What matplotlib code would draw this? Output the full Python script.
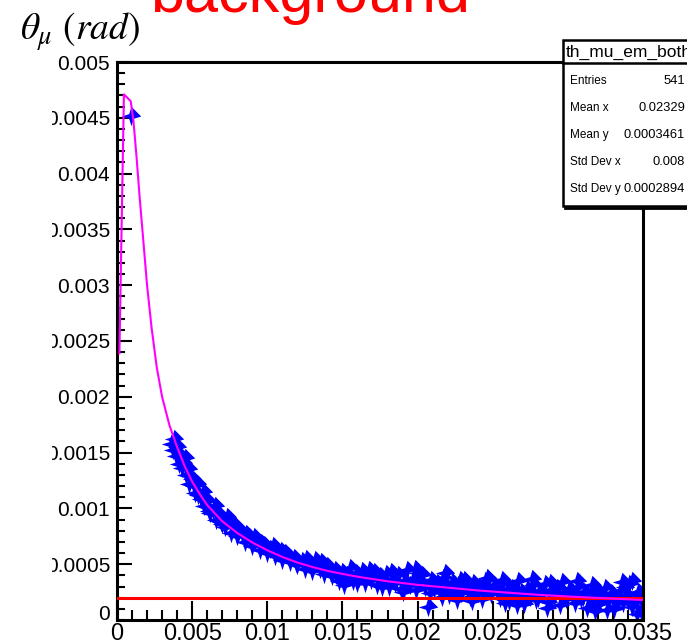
import numpy as np
import matplotlib
matplotlib.use("Agg")
import matplotlib.pyplot as plt
from matplotlib.path import Path
from matplotlib.patches import Rectangle
from matplotlib.lines import Line2D

# Electron angle (x) and muon angle (y) of the selected events, in mrad
theta_e_mrad = [
    0.91,
    3.6, 3.7, 3.8, 3.9, 4.0, 4.1, 4.2, 4.3, 4.4, 4.5, 4.6, 4.7, 4.8, 5.0, 5.1,
    5.2, 5.3, 5.4, 5.6, 5.7, 5.8, 6.0, 6.1, 6.2, 6.4, 6.5, 6.6, 6.8, 6.9, 7.0,
    7.2, 7.3, 7.4, 7.6, 7.7, 7.8, 8.0, 8.1, 8.3, 8.5, 8.6, 8.8, 9.0, 9.1, 9.2,
    9.5, 9.6, 9.8, 10.0,
    10.2, 10.4, 10.5, 10.7, 10.9, 11.0, 11.2, 11.4, 11.5, 11.8, 11.9, 12.0,
    12.3, 12.5, 12.6, 12.8, 13.0, 13.1, 13.2, 13.5, 13.6, 13.8, 14.0, 14.2,
    14.3, 14.5, 14.6, 14.8, 15.0, 15.1, 15.2,
    15.3, 15.5, 15.7, 15.9, 16.0, 16.1, 16.3, 16.5, 16.7, 16.8, 16.9, 17.1,
    17.3, 17.5, 17.6, 17.7, 17.9, 18.1, 18.2, 18.3, 18.5, 18.7, 18.9, 19.0,
    19.1, 19.3, 19.5, 19.7, 19.8, 19.9, 20.0, 20.1, 20.3, 20.5, 20.7,
    20.8, 20.9, 21.0, 21.1, 21.3, 21.5, 21.6, 21.7, 21.8, 21.9, 22.0, 22.1,
    22.3, 22.5, 22.6, 22.7, 22.8, 22.9, 23.0, 23.1, 23.3, 23.5, 23.6, 23.7,
    23.9, 24.0, 24.1, 24.3, 24.5, 24.6, 24.7, 24.9, 25.1,
    25.3, 25.5, 25.6, 25.7, 25.8, 25.9, 26.0, 26.1, 26.3, 26.5, 26.6, 26.7,
    26.9, 27.0, 27.1, 27.3, 27.5, 27.6, 27.7, 27.9, 28.0, 28.1, 28.3, 28.5,
    28.6, 28.7, 28.8, 28.9, 29.0, 29.1, 29.3, 29.5, 29.6, 29.7, 29.9, 30.1,
    30.3, 30.5, 30.6, 30.7, 30.9, 31.0, 31.1, 31.3, 31.5, 31.6, 31.7, 31.8,
    31.9, 32.0, 32.1, 32.3, 32.5, 32.6, 32.7, 32.9, 33.0, 33.1, 33.3, 33.5,
    33.6, 33.7, 33.8, 33.9, 34.0, 34.1, 34.3, 34.3, 34.5, 34.6, 34.7, 34.85,
    34.9, 34.95,
]
theta_mu_mrad = [
    4.52,
    1.58, 1.52, 1.62, 1.47, 1.55, 1.40, 1.47, 1.36, 1.41, 1.45, 1.30, 1.35, 1.22, 1.26, 1.20,
    1.14, 1.22, 1.12, 1.08, 1.15, 1.02, 1.07, 0.98, 0.96, 0.99, 1.02, 0.90, 0.94, 0.88, 0.86,
    0.83, 0.92, 0.90, 0.78, 0.86, 0.84, 0.75, 0.80, 0.78, 0.70, 0.77, 0.74, 0.66, 0.74, 0.71,
    0.63, 0.69, 0.67, 0.60,
    0.64, 0.66, 0.57, 0.61, 0.62, 0.54, 0.60, 0.57, 0.52, 0.56, 0.51, 0.49,
    0.53, 0.46, 0.55, 0.50, 0.44, 0.49, 0.54, 0.46, 0.52, 0.41, 0.48, 0.44,
    0.39, 0.45, 0.40, 0.35, 0.43, 0.31, 0.38,
    0.40, 0.47, 0.35, 0.42, 0.33, 0.38, 0.44, 0.33, 0.40, 0.45, 0.36, 0.43,
    0.31, 0.39, 0.30, 0.35, 0.41, 0.30, 0.43, 0.37, 0.33, 0.40, 0.28, 0.25,
    0.35, 0.45, 0.31, 0.37, 0.46, 0.27, 0.42, 0.34, 0.40, 0.30, 0.12,
    0.24, 0.36, 0.31, 0.28, 0.33, 0.25, 0.21, 0.38, 0.42, 0.30, 0.27, 0.22,
    0.34, 0.27, 0.18, 0.31, 0.36, 0.24, 0.29, 0.36, 0.29, 0.21, 0.17, 0.33,
    0.26, 0.24, 0.30, 0.19, 0.35, 0.38, 0.27, 0.23, 0.31,
    0.26, 0.20, 0.36, 0.33, 0.15, 0.24, 0.27, 0.17, 0.29, 0.22, 0.13, 0.35,
    0.25, 0.22, 0.14, 0.28, 0.21, 0.37, 0.31, 0.18, 0.20, 0.26, 0.23, 0.32,
    0.11, 0.16, 0.33, 0.27, 0.25, 0.21, 0.29, 0.13, 0.34, 0.24, 0.19, 0.28,
    0.22, 0.15, 0.35, 0.30, 0.19, 0.21, 0.25, 0.11, 0.23, 0.31, 0.18, 0.08,
    0.27, 0.20, 0.14, 0.21, 0.29, 0.09, 0.17, 0.24, 0.18, 0.10, 0.20, 0.26,
    0.34, 0.15, 0.30, 0.22, 0.17, 0.32, 0.12, 0.35, 0.19, 0.05, 0.25, 0.08,
    0.22, 0.16,
]

# Fitted theta_mu(theta_e) curve, mrad
fit_x_mrad = [0.16, 0.46, 0.91, 1.09, 1.3, 1.5, 1.75, 2.0, 2.3, 2.65, 3.0, 3.5,
              4.0, 4.5, 5.0, 5.5, 6.0, 7.0, 8.0, 9.0, 10.0, 11.0, 12.0, 13.0,
              14.0, 15.0, 16.0, 18.0, 20.0, 22.0, 24.0, 26.0, 28.0, 30.0, 32.0, 35.0]
fit_y_mrad = [2.39, 4.71, 4.65, 4.48, 4.15, 3.80, 3.40, 3.00, 2.62, 2.26, 2.00, 1.74,
              1.55, 1.38, 1.24, 1.13, 1.03, 0.885, 0.78, 0.695, 0.625, 0.565, 0.515, 0.475,
              0.44, 0.413, 0.388, 0.347, 0.315, 0.29, 0.265, 0.245, 0.226, 0.211, 0.198, 0.179]

# Muon angle cut, rad
theta_mu_cut = 0.0002

x_ticks = [0, 0.005, 0.01, 0.015, 0.02, 0.025, 0.03, 0.035]
x_tick_labels = ["0", "0.005", "0.01", "0.015", "0.02", "0.025", "0.03", "0.035"]
y_ticks = [0.0005, 0.001, 0.0015, 0.002, 0.0025, 0.003, 0.0035, 0.004, 0.0045, 0.005]
y_tick_labels = ["0.0005", "0.001", "0.0015", "0.002", "0.0025", "0.003",
                 "0.0035", "0.004", "0.0045", "0.005"]

hist_name = "th_mu_em_both"
stat_names = ["Entries", "Mean x", "Mean y", "Std Dev x", "Std Dev y"]
stat_values = ["541", "0.02329", "0.0003461", "0.008", "0.0002894"]

title_text = "background"
y_title = r"$\theta_{\mu}\ (rad)$"

plt.rcParams["mathtext.fontset"] = "stix"
SANS = ["Liberation Sans", "DejaVu Sans"]

W, H = 687, 644
fig = plt.figure(figsize=(W / 100, H / 100), dpi=100)


def fx(px):
    return px / W


def fy(py):
    return 1 - py / H


ax = fig.add_axes([fx(117), fy(620), fx(643) - fx(117), fy(62) - fy(620)])
ax.set_xlim(0, 0.035)
ax.set_ylim(0, 0.005)

# four-pointed star marker
ang = np.deg2rad(90 + 45 * np.arange(8))
rad = np.where(np.arange(8) % 2 == 0, 1.0, 0.34)
star = Path(np.column_stack([rad * np.cos(ang), rad * np.sin(ang)]), closed=True)

x = np.array(theta_e_mrad) * 1e-3
y = np.array(theta_mu_mrad) * 1e-3
ax.plot(x, y, linestyle="none", marker=star, markersize=14, color="#0000ff",
        markeredgewidth=0, zorder=2)

ax.axhline(theta_mu_cut, color="#ff0000", lw=2.2, zorder=3)
ax.plot(np.array(fit_x_mrad) * 1e-3, np.array(fit_y_mrad) * 1e-3,
        color="#ff00ff", lw=1.5, zorder=4)

for s in ax.spines.values():
    s.set_linewidth(2.2)

ax.set_xticks(x_ticks)
ax.set_xticklabels(x_tick_labels)
ax.set_yticks(y_ticks)
ax.set_yticklabels(y_tick_labels)
ax.set_xticks(np.arange(0, 0.0351, 0.001), minor=True)
ax.set_yticks(np.arange(0, 0.00501, 0.0001), minor=True)
ax.tick_params(which="both", direction="in", top=False, right=False, width=1.5)
ax.tick_params(axis="x", which="major", length=13.7, pad=2.5, labelsize=17)
ax.tick_params(axis="x", which="minor", length=7.2)
ax.tick_params(axis="y", which="major", length=10.8, pad=5, labelsize=15)
ax.tick_params(axis="y", which="minor", length=5.5)
for lab in ax.get_xticklabels() + ax.get_yticklabels():
    lab.set_family(SANS)
ax.annotate("0", xy=(0, 0), xycoords="axes fraction", xytext=(-5, 4),
            textcoords="offset points", ha="right", va="center",
            fontsize=15, family=SANS)

# left edge of the pasted canvas
fig.add_artist(Rectangle((0, 0), fx(52), 1, transform=fig.transFigure,
                         facecolor="white", edgecolor="none", zorder=5))

# statistics box
bx0, by0, by1 = 563, 40, 206
fig.add_artist(Rectangle((fx(bx0), fy(by1)), fx(760) - fx(bx0), fy(by0) - fy(by1),
                         transform=fig.transFigure, facecolor="white",
                         edgecolor="black", lw=1.8, zorder=6))
fig.add_artist(Line2D([fx(bx0), 1], [fy(63), fy(63)], transform=fig.transFigure,
                      color="black", lw=1.8, zorder=7))
fig.add_artist(Line2D([fx(bx0 + 2), 1], [fy(by1 + 1.5), fy(by1 + 1.5)],
                      transform=fig.transFigure, color="black", lw=2.0, zorder=7))
fig.text(fx(566), fy(52), hist_name, fontsize=12.5, family=SANS, ha="left",
         va="center", zorder=8)
for i, (nm, val) in enumerate(zip(stat_names, stat_values)):
    yy = 81 + 27 * i
    fig.text(fx(570), fy(yy), nm, fontsize=8.5, family=SANS, ha="left",
             va="center", zorder=8)
    fig.text(fx(685), fy(yy), val, fontsize=9.3, family=SANS, ha="right",
             va="center", zorder=8)

fig.text(fx(20), fy(40), y_title, fontsize=27, ha="left", va="baseline", zorder=9)
fig.text(fx(150), fy(12), title_text, fontsize=44, color="#ff0000", family=SANS,
         ha="left", va="baseline", zorder=9)

fig.savefig("out.png", dpi=100)
